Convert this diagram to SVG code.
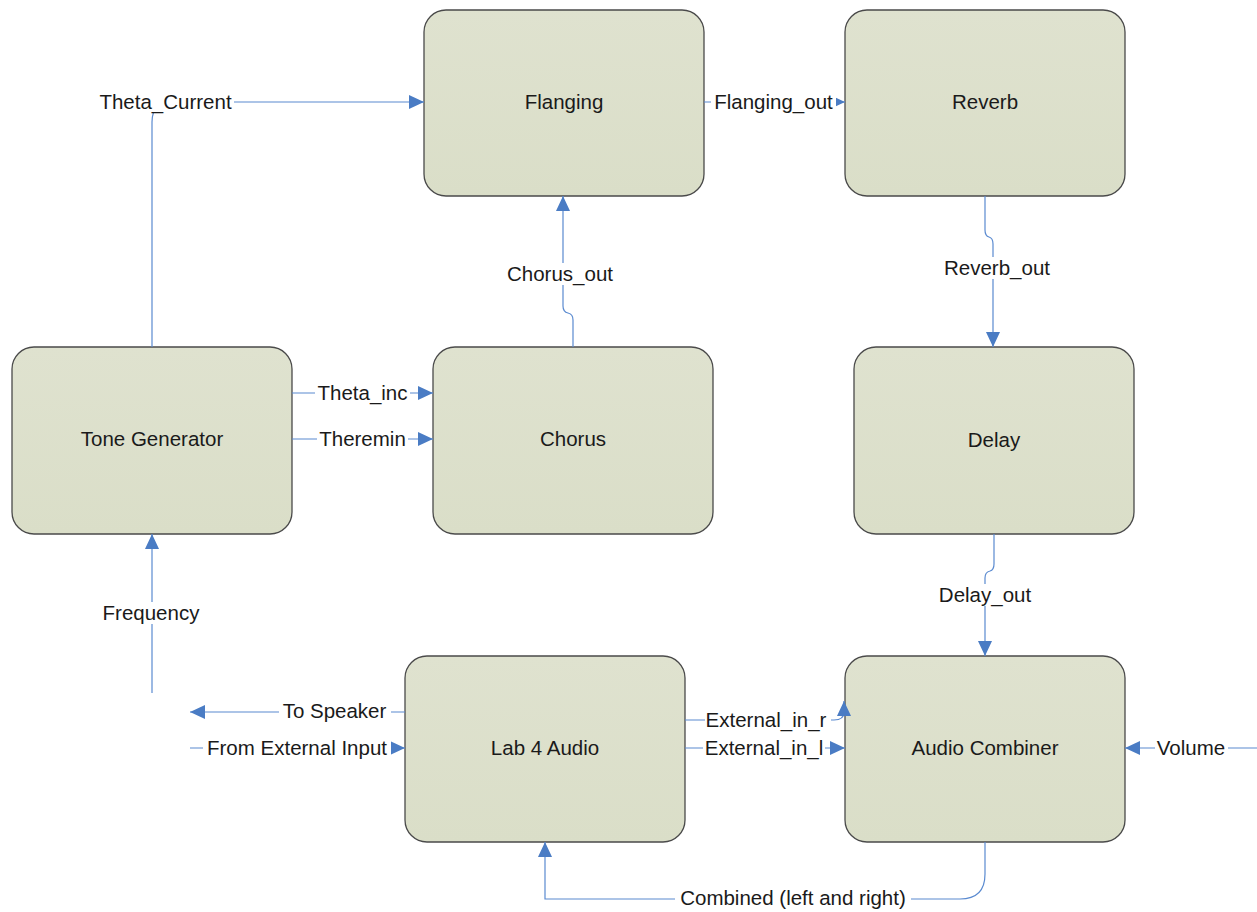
<svg xmlns="http://www.w3.org/2000/svg" width="1257" height="912" viewBox="0 0 1257 912">
  <defs>
    <marker id="arrow" markerUnits="userSpaceOnUse" markerWidth="16" markerHeight="14" viewBox="0 0 16 14" refX="15" refY="7" orient="auto">
      <path d="M0,0 L15,7 L0,14 Z" fill="#4a7cc4"/>
    </marker>
    <linearGradient id="nodeFill" x1="0" y1="0" x2="0" y2="1">
      <stop offset="0" stop-color="#dfe2cf"/>
      <stop offset="1" stop-color="#dadec8"/>
    </linearGradient>
  </defs>
  <style>
    .node rect { fill: url(#nodeFill); stroke: #4a4a4a; stroke-width: 1.3; }
    .node text { font-family: "Liberation Sans", Arial, sans-serif; font-size: 20.5px; fill: #1a1a1a; text-anchor: middle; dominant-baseline: central; }
    .wire { fill: none; stroke: #5a8ad0; stroke-width: 1.2; }
    .lbl-bg { fill: #ffffff; }
    .lbl { font-family: "Liberation Sans", Arial, sans-serif; font-size: 20.5px; fill: #1a1a1a; text-anchor: middle; dominant-baseline: central; }
  </style>
  <rect width="1257" height="912" fill="#ffffff"/>

  <!-- nodes -->
  <g id="node-flanging" class="node"><rect x="424" y="10" width="280" height="186" rx="22"/><text x="564" y="101">Flanging</text></g>
  <g id="node-reverb" class="node"><rect x="845" y="10" width="280" height="186" rx="22"/><text x="985" y="101">Reverb</text></g>
  <g id="node-tone-generator" class="node"><rect x="12" y="347" width="280" height="187" rx="22"/><text x="152" y="438">Tone Generator</text></g>
  <g id="node-chorus" class="node"><rect x="433" y="347" width="280" height="187" rx="22"/><text x="573" y="438">Chorus</text></g>
  <g id="node-delay" class="node"><rect x="854" y="347" width="280" height="187" rx="22"/><text x="994" y="439">Delay</text></g>
  <g id="node-lab4-audio" class="node"><rect x="405" y="656" width="280" height="186" rx="22"/><text x="545" y="747">Lab 4 Audio</text></g>
  <g id="node-audio-combiner" class="node"><rect x="845" y="656" width="280" height="186" rx="22"/><text x="985" y="747">Audio Combiner</text></g>

  <!-- connectors, drawn over the node edges so arrowheads stay whole -->
  <g id="connectors">
    <path class="wire" d="M152,347 V122 Q152,102 172,102 H424" marker-end="url(#arrow)"/>
    <path class="wire" d="M292,393 H433" marker-end="url(#arrow)"/>
    <path class="wire" d="M292,439 H433" marker-end="url(#arrow)"/>
    <path class="wire" d="M573,347 V320 Q573,314 568,313 Q563,312 563,306 V196" marker-end="url(#arrow)"/>
    <path class="wire" d="M704,102 H845" marker-end="url(#arrow)"/>
    <path class="wire" d="M985,196 V230 Q985,236 989,237 Q993,238 993,244 V347" marker-end="url(#arrow)"/>
    <path class="wire" d="M994,534 V564 Q994,570 990,571 Q985,572 985,578 V656" marker-end="url(#arrow)"/>
    <path class="wire" d="M152,693 V534" marker-end="url(#arrow)"/>
    <path class="wire" d="M405,712 H190" marker-end="url(#arrow)"/>
    <path class="wire" d="M190,748 H405" marker-end="url(#arrow)"/>
    <path class="wire" d="M685,720 H834 Q844,720 844,712 V701" marker-end="url(#arrow)"/>
    <path class="wire" d="M685,748 H845" marker-end="url(#arrow)"/>
    <path class="wire" d="M1257,748 H1125" marker-end="url(#arrow)"/>
    <path class="wire" d="M985,842 V874 Q985,899 960,899 H545 V842" marker-end="url(#arrow)"/>

    <!-- connector labels -->
    <g id="label-theta-current"><rect class="lbl-bg" x="97" y="91" width="137" height="22"/><text class="lbl" x="165.5" y="101">Theta_Current</text></g>
    <g id="label-theta-inc"><rect class="lbl-bg" x="315" y="382" width="95" height="22"/><text class="lbl" x="362.5" y="392">Theta_inc</text></g>
    <g id="label-theremin"><rect class="lbl-bg" x="317" y="428" width="91" height="22"/><text class="lbl" x="362.5" y="438">Theremin</text></g>
    <g id="label-chorus-out"><rect class="lbl-bg" x="504" y="263" width="112" height="22"/><text class="lbl" x="560" y="273">Chorus_out</text></g>
    <g id="label-flanging-out"><rect class="lbl-bg" x="711" y="91" width="125" height="22"/><text class="lbl" x="773.5" y="101">Flanging_out</text></g>
    <g id="label-reverb-out"><rect class="lbl-bg" x="941" y="257" width="112" height="22"/><text class="lbl" x="997" y="267">Reverb_out</text></g>
    <g id="label-delay-out"><rect class="lbl-bg" x="935" y="584" width="100" height="22"/><text class="lbl" x="985" y="594">Delay_out</text></g>
    <g id="label-frequency"><rect class="lbl-bg" x="100" y="602" width="102" height="22"/><text class="lbl" x="151" y="612">Frequency</text></g>
    <g id="label-to-speaker"><rect class="lbl-bg" x="279" y="700" width="112" height="22"/><text class="lbl" x="334.5" y="710">To Speaker</text></g>
    <g id="label-from-external"><rect class="lbl-bg" x="203" y="737" width="188" height="22"/><text class="lbl" x="297" y="747">From External Input</text></g>
    <g id="label-ext-r"><rect class="lbl-bg" x="705" y="709" width="126" height="22"/><text class="lbl" x="766" y="719">External_in_r</text></g>
    <g id="label-ext-l"><rect class="lbl-bg" x="703" y="737" width="122" height="22"/><text class="lbl" x="764" y="747">External_in_l</text></g>
    <g id="label-volume"><rect class="lbl-bg" x="1155" y="737" width="73" height="22"/><text class="lbl" x="1191" y="747">Volume</text></g>
    <g id="label-combined"><rect class="lbl-bg" x="675" y="887" width="236" height="22"/><text class="lbl" x="793" y="897">Combined (left and right)</text></g>
  </g>
</svg>
